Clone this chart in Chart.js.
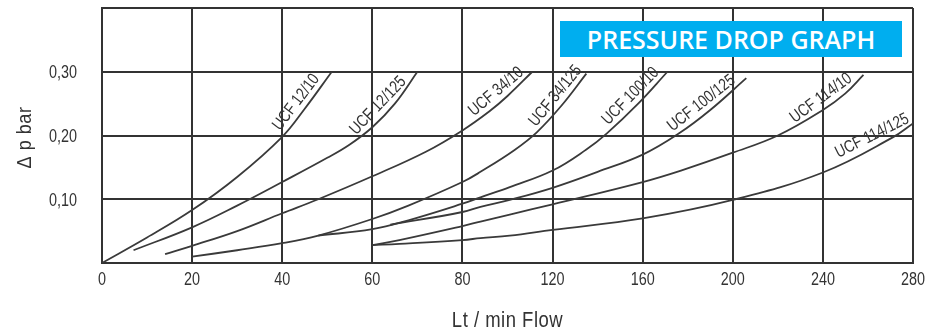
<!DOCTYPE html>
<html lang="en">
<head>
<meta charset="UTF-8">
<title>Pressure Drop Graph</title>
<script src="https://cdn.jsdelivr.net/npm/chart.js"></script>
<style>
  body { margin: 0; background: white; }
  .wrap { position: relative; width: 938px; height: 330px; }
  .badge {
    position: absolute; left: 560px; top: 21px; width: 342px; height: 36px;
    background: #00aeef; color: white;
    font-family: 'Open Sans', sans-serif; font-weight: 600; font-size: 25px;
    line-height: 36px; text-align: center;
  }
</style>
</head>
<body>
<div class="wrap">
  <canvas id="myChart" width="938" height="330"></canvas>
  <div class="badge">PRESSURE DROP GRAPH</div>
</div>
<script>
// x grid is evenly spaced but the flow steps change after 80
const xTicks = [0, 20, 40, 60, 80, 120, 160, 200, 240, 280];
const yTicks = [0.10, 0.20, 0.30];
const yMax = 0.40;

const names = ['UCF 12/10', 'UCF 12/125', 'UCF 34/10', 'UCF 34/125',
               'UCF 100/10', 'UCF 100/125', 'UCF 114/10', 'UCF 114/125'];

// [flow Lt/min, delta p bar]
const ucf12_10  = [[0,0],[10,0.04],[20,0.083],[30,0.135],[40,0.198],[45,0.242],[51,0.30]];
const ucf12_125 = [[7,0.02],[20,0.056],[30,0.09],[40,0.127],[50,0.165],[55,0.186],[60,0.213],[65,0.25],[70,0.30]];
const ucf34_10  = [[14,0.014],[20,0.027],[30,0.05],[40,0.078],[48,0.10],[60,0.136],[72,0.175],[80,0.208],[92,0.238],[100,0.262],[111,0.30]];
const ucf34_125 = [[20,0.01],[30,0.02],[40,0.031],[48,0.043],[60,0.069],[68,0.09],[80,0.127],[88,0.143],[103,0.177],[113,0.205],[124,0.247],[135,0.297]];
const ucf100_10 = [[48,0.043],[60,0.053],[68,0.067],[80,0.093],[88,0.103],[101,0.119],[120,0.145],[135,0.178],[144,0.203],[158,0.25],[171,0.30]];
const ucf100_125 = [[64,0.06],[80,0.08],[88,0.088],[101,0.099],[120,0.118],[140,0.143],[160,0.17],[176,0.203],[190,0.24],[206,0.29]];
const ucf114_10 = [[60,0.028],[66,0.036],[80,0.058],[88,0.065],[101,0.076],[120,0.092],[160,0.127],[177,0.145],[200,0.173],[220,0.2],[240,0.24],[250,0.266],[258,0.295]];
const ucf114_125 = [[60,0.028],[66,0.03],[80,0.036],[88,0.039],[101,0.043],[120,0.052],[160,0.07],[200,0.099],[240,0.142],[271,0.197],[280,0.219]];

const curves = [ucf12_10, ucf12_125, ucf34_10, ucf34_125, ucf100_10, ucf100_125, ucf114_10, ucf114_125];
// flow where each curve's name is written
const labelFlows = [45, 63, 98, 125, 158, 189, 242, 264];

const ink = '#333';

function flowToPos(f) {
    for (let i = 0; i < xTicks.length - 1; i++) {
        if (f <= xTicks[i + 1]) {
            return i + (f - xTicks[i]) / (xTicks[i + 1] - xTicks[i]);
        }
    }
    return xTicks.length - 1;
}

function dpAt(pts, f) {
    for (let i = 0; i < pts.length - 1; i++) {
        if (f <= pts[i + 1][0]) {
            const t = (flowToPos(f) - flowToPos(pts[i][0])) / (flowToPos(pts[i + 1][0]) - flowToPos(pts[i][0]));
            return pts[i][1] + t * (pts[i + 1][1] - pts[i][1]);
        }
    }
    return pts[pts.length - 1][1];
}

// Liberation Sans squeezed sideways, to look like the narrow face of the original
function narrowText(ctx, text, x, y, size, align, rot, squeeze) {
    ctx.save();
    ctx.translate(x, y);
    ctx.rotate(rot || 0);
    ctx.scale(squeeze || 0.8, 1);
    ctx.font = size + "px 'Liberation Sans', Arial, sans-serif";
    ctx.textAlign = align;
    ctx.textBaseline = 'alphabetic';
    ctx.fillText(text, 0, 0);
    ctx.restore();
}

const curveLabels = {
    id: 'curveLabels',
    afterDatasetsDraw(chart) {
        const { ctx, scales: { x, y } } = chart;
        ctx.save();
        ctx.fillStyle = ink;
        curves.forEach((pts, i) => {
            const f = labelFlows[i];
            const px = v => x.getPixelForValue(flowToPos(v));
            const py = v => y.getPixelForValue(dpAt(pts, v));
            const a = Math.atan2(py(f + 2) - py(f - 2), px(f + 2) - px(f - 2));
            // baseline sits a few px above the curve
            const cx = px(f) + Math.sin(a) * 6;
            const cy = py(f) - Math.cos(a) * 6;
            narrowText(ctx, names[i], cx, cy, 17, 'center', a);
        });
        ctx.restore();
    }
};

const axisText = {
    id: 'axisText',
    afterDraw(chart) {
        const { ctx, chartArea, scales: { x, y } } = chart;
        ctx.save();
        ctx.fillStyle = ink;
        xTicks.forEach((t, i) => {
            narrowText(ctx, String(t), x.getPixelForValue(i), chartArea.bottom + 22, 18, 'center');
        });
        yTicks.forEach(v => {
            narrowText(ctx, v.toFixed(2).replace('.', ','), chartArea.left - 25, y.getPixelForValue(v) + 6.5, 18, 'right');
        });
        ctx.letterSpacing = '0.6px';
        narrowText(ctx, 'Lt / min Flow', (chartArea.left + chartArea.right) / 2, 327, 22, 'center', 0, 0.84);
        narrowText(ctx, 'Δ p bar', 31, (chartArea.top + chartArea.bottom) / 2 + 2, 21, 'center', -Math.PI / 2, 0.86);
        ctx.restore();
    }
};

new Chart(document.getElementById('myChart'), {
    type: 'line',
    data: {
        datasets: curves.map((pts, i) => ({
            label: names[i],
            data: pts.map(p => ({ x: flowToPos(p[0]), y: p[1] })),
            borderColor: '#3a3a3a',
            borderWidth: 1.8,
            pointRadius: 0,
            fill: false,
            tension: 0.4
        }))
    },
    options: {
        responsive: false,
        animation: false,
        layout: { padding: { left: 0, right: 25, top: 8, bottom: 0 } },
        plugins: { legend: { display: false }, tooltip: { enabled: false } },
        scales: {
            x: {
                type: 'linear',
                min: 0,
                max: xTicks.length - 1,
                afterFit: s => { s.height = 67; s.paddingLeft = 0; s.paddingRight = 0; },
                grid: { color: ink, lineWidth: 2, drawTicks: false },
                border: { color: ink, width: 2 },
                ticks: { stepSize: 1, display: false }
            },
            y: {
                min: 0,
                max: yMax,
                afterFit: s => { s.width = 102; s.paddingTop = 0; s.paddingBottom = 0; },
                grid: { color: ink, lineWidth: 2, drawTicks: false },
                border: { color: ink, width: 2 },
                ticks: { stepSize: 0.1, display: false }
            }
        }
    },
    plugins: [curveLabels, axisText]
});
</script>
</body>
</html>
